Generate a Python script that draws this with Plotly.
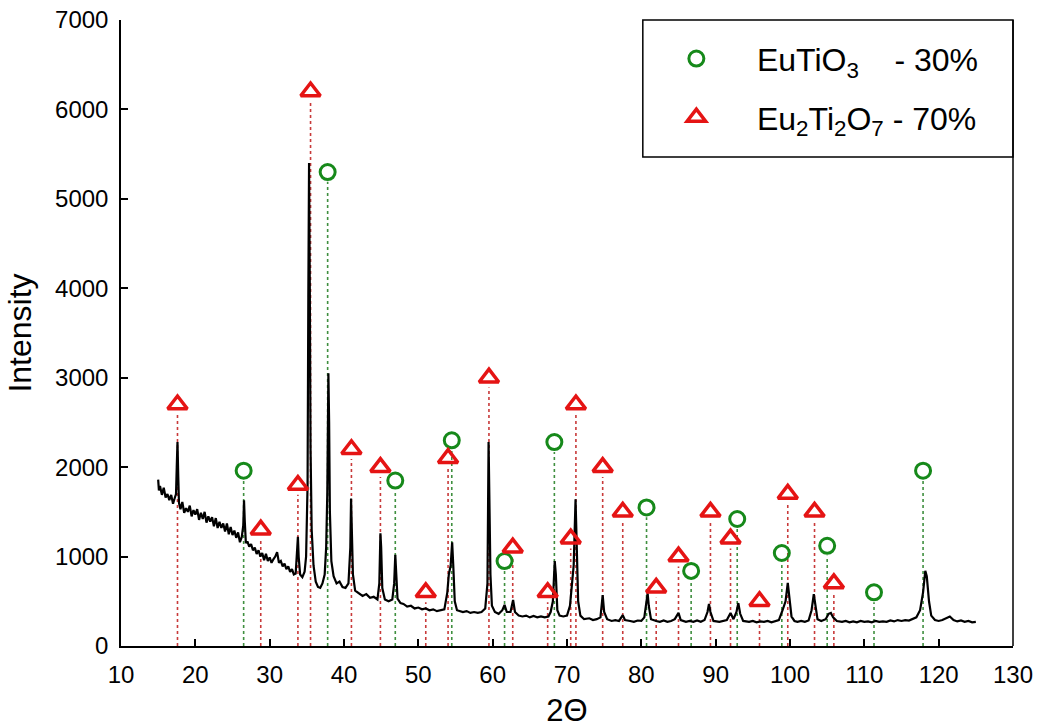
import plotly.graph_objects as go

# ---------------- data ----------------
two_theta = [
    15.00, 15.10, 15.25, 15.50, 15.75, 16.00, 16.25, 16.50, 16.75, 17.00, 17.25, 17.40, 17.50, 17.60, 17.70, 17.80,
    18.00, 18.25, 18.50, 18.75, 19.00, 19.25, 19.50, 19.75, 20.00, 20.25, 20.50, 20.75, 21.00, 21.25, 21.50, 21.75,
    22.00, 22.25, 22.50, 22.75, 23.00, 23.25, 23.50, 23.75, 24.00, 24.25, 24.50, 24.75, 25.00, 25.25, 25.50, 25.75,
    26.00, 26.25, 26.45, 26.55, 26.65, 26.80, 27.00, 27.25, 27.50, 27.75, 28.00, 28.25, 28.50, 28.75, 29.00, 29.25,
    29.50, 29.75, 30.00, 30.25, 30.50, 30.75, 31.00, 31.25, 31.50, 31.75, 32.00, 32.25, 32.50, 32.75, 33.00, 33.25,
    33.50, 33.70, 33.80, 33.90, 34.10, 34.40, 34.70, 34.90, 35.10, 35.20, 35.30, 35.40, 35.50, 35.65, 35.90, 36.20,
    36.50, 36.80, 37.10, 37.40, 37.60, 37.75, 37.90, 38.00, 38.10, 38.30, 38.60, 39.00, 39.40, 39.80, 40.20, 40.60,
    40.85, 40.95, 41.05, 41.20, 41.50, 42.00, 42.50, 43.00, 43.50, 44.00, 44.50, 44.75, 44.90, 45.00, 45.15, 45.50,
    46.00, 46.50, 46.75, 46.90, 47.00, 47.20, 47.60, 48.00, 48.50, 49.00, 49.50, 50.00, 50.50, 51.00, 51.50, 52.00,
    52.50, 53.00, 53.50, 53.90, 54.10, 54.35, 54.55, 54.70, 54.90, 55.20, 55.60, 56.00, 56.50, 57.00, 57.50, 58.00,
    58.50, 59.00, 59.30, 59.45, 59.55, 59.70, 59.90, 60.30, 60.80, 61.30, 61.60, 61.90, 62.40, 62.75, 63.00, 63.50,
    64.00, 64.50, 65.00, 65.50, 66.00, 66.50, 67.00, 67.50, 67.80, 68.10, 68.35, 68.50, 68.70, 69.00, 69.50, 70.00,
    70.40, 70.65, 70.90, 71.15, 71.30, 71.50, 71.80, 72.30, 73.00, 73.50, 74.00, 74.50, 74.80, 75.00, 75.40, 76.00,
    76.50, 77.00, 77.50, 77.80, 78.50, 79.00, 79.50, 80.00, 80.40, 80.60, 80.85, 81.00, 81.30, 82.00, 82.50, 83.00,
    83.50, 84.00, 84.50, 85.00, 85.30, 86.00, 86.50, 87.00, 87.50, 88.00, 88.50, 88.90, 89.10, 89.30, 89.70, 90.50,
    91.00, 91.50, 92.00, 92.40, 92.80, 93.05, 93.30, 93.70, 94.50, 95.00, 95.50, 96.00, 96.50, 97.00, 97.50, 98.00,
    98.50, 99.00, 99.40, 99.70, 99.90, 100.20, 100.60, 101.00, 101.50, 102.00, 102.50, 102.90, 103.20, 103.40, 103.70, 104.20,
    104.80, 105.20, 105.50, 105.80, 106.30, 107.00, 107.50, 108.00, 108.50, 109.00, 109.50, 110.00, 110.50, 111.00, 111.50, 112.00,
    112.50, 113.00, 113.50, 114.00, 114.50, 115.00, 115.50, 116.00, 116.50, 117.00, 117.50, 117.90, 118.20, 118.40, 118.70, 119.00,
    119.50, 120.00, 120.50, 121.00, 121.50, 122.00, 122.50, 123.00, 123.50, 124.00, 124.50, 125.00,
]
intensity = [
    1860, 1740, 1790, 1690, 1770, 1660, 1700, 1630, 1690, 1590, 1660, 1700, 2000, 2280, 1900, 1600,
    1530, 1610, 1490, 1540, 1500, 1570, 1450, 1520, 1470, 1530, 1410, 1490, 1420, 1500, 1380, 1450,
    1390, 1440, 1340, 1430, 1320, 1390, 1320, 1370, 1280, 1370, 1250, 1330, 1240, 1290, 1210, 1270,
    1160, 1220, 1350, 1630, 1400, 1150, 1170, 1110, 1140, 1070, 1100, 1030, 1070, 1000, 1040, 960,
    1030, 950, 990, 930, 970, 1000, 1050, 930, 950, 890, 920, 860, 890, 830, 860, 800,
    810, 1050, 1220, 1000, 800, 770, 830, 1000, 1800, 3900, 5400, 4000, 2200, 1300, 900, 720,
    660, 650, 700, 800, 1100, 1700, 3050, 2500, 1500, 950, 780, 700, 720, 660, 650, 700,
    1100, 1650, 1400, 800, 620, 590, 560, 580, 540, 550, 520, 700, 1260, 1100, 650, 520,
    500, 520, 700, 1020, 850, 530, 480, 470, 440, 450, 420, 430, 410, 420, 400, 410,
    390, 400, 410, 600, 800, 900, 1160, 900, 500, 400, 390, 380, 390, 370, 380, 370,
    380, 420, 700, 2280, 1700, 800, 450, 380, 360, 400, 460, 380, 380, 515, 380, 340,
    330, 340, 320, 335, 320, 330, 320, 330, 380, 500, 950, 800, 400, 340, 330, 340,
    450, 700, 900, 1640, 1200, 500, 340, 300, 310, 290, 300, 320, 570, 380, 300, 280,
    290, 280, 345, 290, 280, 270, 285, 280, 320, 450, 590, 450, 300, 280, 270, 285,
    270, 280, 300, 370, 290, 270, 280, 270, 285, 270, 290, 380, 470, 380, 280, 270,
    280, 290, 370, 300, 380, 480, 360, 280, 270, 280, 265, 275, 270, 280, 265, 275,
    290, 400, 500, 705, 550, 330, 280, 270, 280, 270, 285, 400, 580, 450, 300, 280,
    300, 360, 370, 320, 280, 270, 280, 265, 275, 265, 280, 270, 275, 265, 280, 270,
    275, 270, 285, 275, 290, 280, 290, 285, 300, 320, 400, 600, 840, 780, 500, 340,
    290, 280, 290, 310, 330, 290, 275, 285, 270, 280, 265, 270,
]

# EuTiO3 reference reflections (position, marker height)
eutio3_pos = [26.5, 37.8, 46.9, 54.5, 61.6, 68.3, 80.7, 86.7, 92.9, 98.9, 105.0, 111.3, 117.9]
eutio3_val = [1960, 5300, 1850, 2300, 950, 2280, 1550, 840, 1420, 1040, 1120, 600, 1960]

# Eu2Ti2O7 reference reflections (position, marker height)
eu2ti2o7_pos = [17.6, 28.8, 33.8, 35.5, 41.0, 44.9, 51.0, 54.0, 59.5, 62.7, 67.4, 70.5,
                71.2, 74.8, 77.5, 82.0, 85.0, 89.3, 92.0, 95.9, 99.7, 103.3, 105.9]
eu2ti2o7_val = [2700, 1300, 1800, 6200, 2200, 2000, 600, 2100, 3000, 1100, 600, 1200,
                2700, 2000, 1500, 650, 1000, 1500, 1200, 500, 1700, 1500, 700]

NB = "\u00a0"
series_names = [NB * 4 + "EuTiO<sub>3</sub>" + NB * 4 + "- 30%",
                NB * 4 + "Eu<sub>2</sub>Ti<sub>2</sub>O<sub>7</sub> - 70%"]

x_ticks = list(range(10, 131, 10))
y_ticks = list(range(0, 7001, 1000))

GREEN = "#16891a"
RED = "#e51414"
GREEN_DOT = "#3f8f3f"
RED_DOT = "#c83a3a"
FONT = "Arial, Liberation Sans, sans-serif"


def drop_lines(pos, val, gap):
    xs, ys = [], []
    for p, v in zip(pos, val):
        xs += [p, p, None]
        ys += [0, v - gap, None]
    return xs, ys


fig = go.Figure()

gx, gy = drop_lines(eutio3_pos, eutio3_val, 110)
rx, ry = drop_lines(eu2ti2o7_pos, eu2ti2o7_val, 110)
fig.add_trace(go.Scatter(x=gx, y=gy, mode="lines", showlegend=False, hoverinfo="skip",
                         line=dict(color=GREEN_DOT, width=1.6, dash="dot")))
fig.add_trace(go.Scatter(x=rx, y=ry, mode="lines", showlegend=False, hoverinfo="skip",
                         line=dict(color=RED_DOT, width=1.6, dash="dot")))

fig.add_trace(go.Scatter(x=two_theta, y=intensity, mode="lines", showlegend=False,
                         line=dict(color="black", width=2.2)))

fig.add_trace(go.Scatter(x=eutio3_pos, y=eutio3_val, mode="markers", name=series_names[0],
                         legendgroup="a",
                         marker=dict(symbol="circle-open", size=15, color=GREEN,
                                     line=dict(color=GREEN, width=3))))
fig.add_trace(go.Scatter(x=eu2ti2o7_pos, y=eu2ti2o7_val, mode="markers", name=series_names[1],
                         legendgroup="b",
                         marker=dict(symbol="triangle-up-open", size=17, color=RED,
                                     line=dict(color=RED, width=3.5))))

# right frame line and legend box
fig.add_shape(type="line", xref="paper", yref="paper", x0=1, x1=1, y0=0, y1=1,
              line=dict(color="black", width=1.5))
fig.add_shape(type="rect", xref="paper", yref="paper", x0=0.585, x1=1, y0=0.781, y1=1,
              line=dict(color="black", width=1.5), fillcolor="rgba(0,0,0,0)")

fig.update_layout(
    width=1043, height=728,
    margin=dict(l=121, r=30, t=20, b=82, autoexpand=False),
    paper_bgcolor="white", plot_bgcolor="white",
    font=dict(family=FONT, color="black"),
    legend=dict(x=0.617, y=0.982, xanchor="left", yanchor="top",
                bgcolor="rgba(0,0,0,0)", borderwidth=0,
                font=dict(family=FONT, size=32, color="black"),
                tracegroupgap=14, itemwidth=40),
    xaxis=dict(range=[10, 130], tickvals=x_ticks, ticks="inside", ticklen=7, tickwidth=1.5,
               tickcolor="black", showline=True, linecolor="black", linewidth=1.5,
               showgrid=False, zeroline=False, ticklabelstandoff=6, automargin=False,
               tickfont=dict(family=FONT, size=24),
               title=dict(text="2\u0398", font=dict(family=FONT, size=31), standoff=20)),
    yaxis=dict(range=[0, 7000], tickvals=y_ticks, ticks="inside", ticklen=7, tickwidth=1.5,
               tickcolor="black", showline=True, linecolor="black", linewidth=1.5,
               showgrid=False, zeroline=False, automargin=False,
               tickfont=dict(family=FONT, size=24), ticklabelstandoff=6,
               title=dict(text="Intensity", font=dict(family=FONT, size=32), standoff=14)),
)

fig.write_html("out.html")
